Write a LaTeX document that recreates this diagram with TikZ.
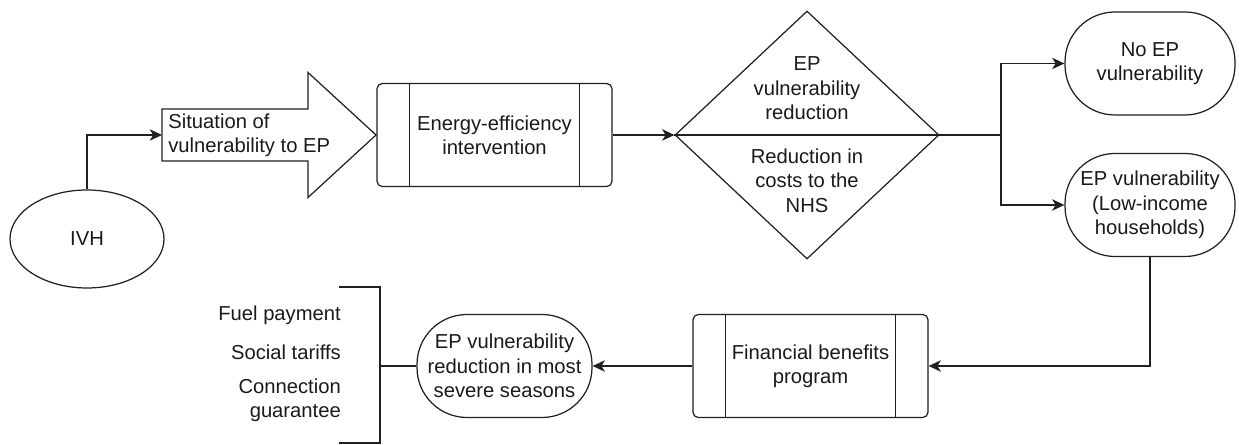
\documentclass[tikz,border=0pt]{standalone}
\usepackage{fontspec}
\setmainfont{Liberation Sans}
\usepackage{tikz}
\usetikzlibrary{arrows.meta, calc, positioning, shapes.geometric}
\usepackage{xcolor}
\definecolor{dInk}{HTML}{1A1A1A}
\definecolor{dLine}{HTML}{202020}

\begin{document}
\begin{tikzpicture}[
  every node/.style={font=\fontsize{11.5}{13.9}\selectfont\color{dInk}},
  wire/.style={line width=0.7pt, dLine},
  proc/.style={draw=dLine, line width=0.7pt, rounded corners=3pt, fill=white,
               minimum width=4.7cm, minimum height=2.06cm, align=center,
               path picture={\draw[dLine, line width=0.7pt]
                 ([xshift=0.65cm]path picture bounding box.north west) -- ([xshift=0.65cm]path picture bounding box.south west)
                 ([xshift=-0.65cm]path picture bounding box.north east) -- ([xshift=-0.65cm]path picture bounding box.south east);}},
  term/.style={draw=dLine, line width=0.7pt, rounded corners=1cm, fill=white,
               minimum width=#1, minimum height=2.06cm, inner sep=1pt, align=center},
  term/.default=3.4cm,
  arr/.style={-{Stealth[length=7pt, width=6.5pt, inset=2pt]}, line width=0.7pt, dLine}]
  \useasboundingbox (0,0) rectangle (24.78,8.9);
  % top row
  \node[ellipse, draw=dLine, line width=0.7pt, minimum width=3.08cm, minimum height=1.96cm] (ivh) at (1.74,4.12) {IVH};
  \node[anchor=west, align=left, inner xsep=0.12cm] (sit) at (3.24,6.2) {Situation of\\vulnerability to EP};
  \draw[wire] ($(sit.west)+(0,0.52)$) -- ++(2.92,0) -- ++(0,0.73) -- ++(1.36,-1.25) coordinate (sittip)
    -- ++(-1.36,-1.25) -- ++(0,0.73) -- ++(-2.92,0) -- cycle;
  \node[proc] (eff) at (9.89,6.2) {Energy-efficiency\\intervention};
  \node[diamond, draw=dLine, line width=0.7pt, minimum width=5.28cm, minimum height=4.96cm, inner sep=0pt] (dia) at (16.14,6.2) {};
  \draw[wire] (dia.west) -- (dia.east);
  \node[align=center] (diaup) at ([yshift=0.93cm]dia.center) {EP\\vulnerability\\reduction};
  \node[align=center] (dialow) at ([yshift=-0.91cm]dia.center) {Reduction in\\costs to the\\NHS};
  \coordinate (junc) at (20.02,6.2);
  \node[term] (noep) at (23.0,7.63) {No EP\\vulnerability};
  \node[term] (lowinc) at (23.0,4.8) {EP vulnerability\\(Low-income\\households)};
  % bottom row
  \node[proc] (fin) at (16.21,1.58) {Financial benefits\\program};
  \node[term=3.5cm] (epred) at (10.09,1.58) {EP vulnerability\\reduction in most\\severe seasons};
  \coordinate (brk) at (7.6,1.58);
  \coordinate (brktop) at (7.6,3.16);
  \coordinate (brkbot) at (7.6,0.04);
  \node[anchor=east] (fuel) at (6.94,2.6) {Fuel payment};
  \node[anchor=east] (social) at (6.94,1.86) {Social tariffs};
  \node[anchor=east, align=right] (conn) at (6.94,0.9) {Connection\\guarantee};
  % connectors
  \draw[arr] (ivh.north) |- (sit.west);
  \foreach \a/\b in {eff/dia, fin/epred} \draw[arr] (\a) -- (\b);
  \draw[wire] (dia.east) -- (junc);
  \foreach \t in {noep, lowinc} \draw[arr] (junc) |- (\t.west);
  \draw[arr] (lowinc.south) |- (fin.east);
  \draw[wire] (epred.west) -- (brk);
  \draw[wire] ([xshift=-0.82cm]brktop) -- (brktop) -- (brkbot) -- ([xshift=-0.82cm]brkbot);
\end{tikzpicture}
\end{document}
